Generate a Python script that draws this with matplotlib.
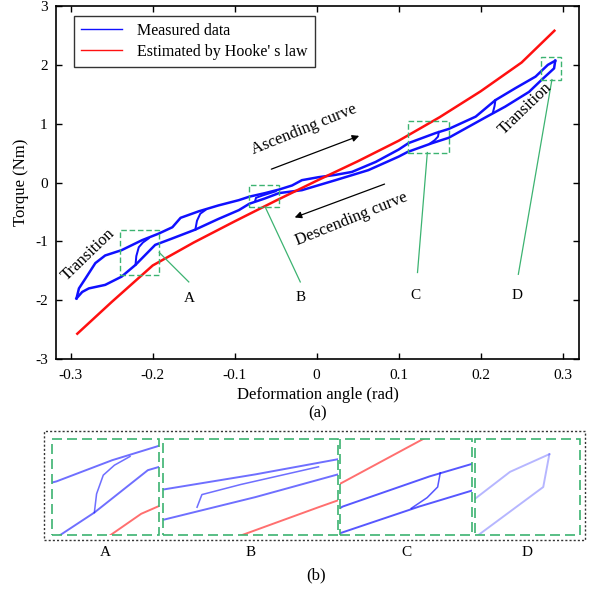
import numpy as np
import matplotlib
matplotlib.use("Agg")
import matplotlib.pyplot as plt
from matplotlib.patches import Rectangle
from matplotlib.lines import Line2D

plt.rcParams['font.family'] = ['Liberation Serif', 'DejaVu Serif']
plt.rcParams['axes.unicode_minus'] = False

# measured loop, upper branch (left to right)
up_x = [-0.293, -0.290, -0.282, -0.270, -0.258, -0.238, -0.213, -0.193, -0.176, -0.166,
        -0.144, -0.120, -0.095, -0.082, -0.063, -0.046, -0.030, -0.018, 0.002, 0.023,
        0.043, 0.072, 0.100, 0.112, 0.145, 0.161, 0.194, 0.218, 0.242, 0.267, 0.282, 0.291]
up_y = [-1.97, -1.80, -1.63, -1.37, -1.24, -1.15, -0.98, -0.87, -0.76, -0.60,
        -0.49, -0.39, -0.30, -0.24, -0.18, -0.12, -0.05, 0.04, 0.09, 0.13,
        0.18, 0.35, 0.56, 0.67, 0.84, 0.91, 1.12, 1.40, 1.60, 1.80, 2.00, 2.07]

# measured loop, lower branch (left to right)
low_x = [-0.293, -0.286, -0.278, -0.258, -0.238, -0.221, -0.209, -0.197, -0.176, -0.148,
         -0.120, -0.095, -0.082, -0.063, -0.046, -0.018, 0.023, 0.063, 0.100, 0.111,
         0.141, 0.161, 0.205, 0.230, 0.259, 0.274, 0.2896, 0.291]
low_y = [-1.97, -1.86, -1.80, -1.74, -1.60, -1.40, -1.23, -1.06, -0.95, -0.80,
         -0.62, -0.47, -0.36, -0.27, -0.18, -0.13, 0.04, 0.21, 0.44, 0.52,
         0.67, 0.76, 1.10, 1.29, 1.54, 1.74, 1.94, 2.07]

# inner transition curves
trans = [
    ([-0.221, -0.220, -0.217, -0.212, -0.205], [-1.40, -1.25, -1.10, -1.02, -0.95]),
    ([-0.148, -0.146, -0.142, -0.136], [-0.80, -0.65, -0.53, -0.47]),
    ([-0.075, -0.074, -0.066, -0.050], [-0.31, -0.26, -0.22, -0.15]),
    ([0.149, 0.148, 0.144, 0.138], [0.86, 0.78, 0.72, 0.66]),
    ([0.218, 0.217, 0.215], [1.40, 1.30, 1.19]),
]

# Hooke's law estimate
hooke_x = [-0.292, -0.25, -0.2, -0.15, -0.1, -0.05, 0.0, 0.05, 0.1, 0.15, 0.2, 0.25, 0.29]
hooke_y = [-2.57, -2.03, -1.41, -1.02, -0.66, -0.31, 0.03, 0.36, 0.71, 1.11, 1.55, 2.04, 2.58]

# zoom boxes: (x0, x1, y0, y1)
box_names = ['A', 'B', 'C', 'D']
boxes = [(-0.240, -0.192, -1.58, -0.81),
         (-0.082, -0.046, -0.42, -0.04),
         (0.111, 0.161, 0.51, 1.05),
         (0.274, 0.298, 1.75, 2.13)]
# leader lines (box point -> label point) and label positions
leaders = [((-0.192, -1.19), (-0.156, -1.69)),
           ((-0.063, -0.41), (-0.020, -1.69)),
           ((0.135, 0.51), (0.123, -1.53)),
           ((0.287, 1.75), (0.246, -1.56))]
label_pos = [(-0.155, -1.97), (-0.020, -1.95), (0.120, -1.92), (0.245, -1.92)]

blue = '#1010ff'
red = '#ff1010'
green = '#3cb371'


def draw_data(ax, lw, alpha_b, alpha_r):
    ax.plot(up_x, up_y, color=blue, lw=lw, alpha=alpha_b)
    ax.plot(low_x, low_y, color=blue, lw=lw, alpha=alpha_b)
    for tx, ty in trans:
        ax.plot(tx, ty, color=blue, lw=lw * 0.8, alpha=alpha_b)
    ax.plot(hooke_x, hooke_y, color=red, lw=lw, alpha=alpha_r)


fig = plt.figure(figsize=(5.95, 5.90), dpi=100)
ax = fig.add_axes([0.0941, 0.3915, 0.879, 0.5983])

draw_data(ax, 1.8, 1.0, 1.0)

ax.set_xlim(-0.318, 0.32)
ax.set_ylim(-3, 3)
ax.set_xticks([-0.3, -0.2, -0.1, 0, 0.1, 0.2, 0.3])
ax.set_xticklabels(['-0.3', '-0.2', '-0.1', '0', '0.1', '0.2', '0.3'])
ax.set_yticks([-3, -2, -1, 0, 1, 2, 3])
ax.tick_params(direction='in', top=True, right=True, length=4, labelsize=11, width=1)
ax.tick_params(axis='x', pad=7)
ax.tick_params(axis='y', pad=6)
for s in ax.spines.values():
    s.set_linewidth(1.2)
ax.set_xlabel('Deformation angle (rad)', fontsize=12, labelpad=4)
ax.set_ylabel('Torque (Nm)', fontsize=12, labelpad=4)

# zoom boxes and leaders
for (x0, x1, y0, y1), (p0, p1), name, lp in zip(boxes, leaders, box_names, label_pos):
    ax.add_patch(Rectangle((x0, y0), x1 - x0, y1 - y0, fill=False, ec=green,
                           ls=(0, (4, 2)), lw=1.0, zorder=5))
    ax.plot([p0[0], p1[0]], [p0[1], p1[1]], color=green, lw=0.9)
    ax.text(lp[0], lp[1], name, fontsize=11, ha='center', va='center')

# arrows and annotations
ax.annotate('', xy=(0.055, 0.81), xytext=(-0.0585, 0.21),
            arrowprops=dict(arrowstyle='-|>', color='black', lw=0.9, mutation_scale=10))
ax.annotate('', xy=(-0.030, -0.61), xytext=(0.086, -0.01),
            arrowprops=dict(arrowstyle='-|>', color='black', lw=0.9, mutation_scale=10))
ax.text(-0.016, 0.90, 'Ascending curve', fontsize=12, rotation=22, ha='center', va='center')
ax.text(0.043, -0.62, 'Descending curve', fontsize=12, rotation=22, ha='center', va='center')
ax.text(-0.279, -1.23, 'Transition', fontsize=12, rotation=44, ha='center', va='center')
ax.text(0.255, 1.26, 'Transition', fontsize=12, rotation=44, ha='center', va='center')

handles = [Line2D([], [], color=blue, lw=1.0), Line2D([], [], color=red, lw=1.0)]
leg = ax.legend(handles, ['Measured data', "Estimated by Hooke' s law"], loc='upper left',
                bbox_to_anchor=(0.034, 0.972), borderaxespad=0, fontsize=11.5, frameon=True,
                fancybox=False, edgecolor='black', handlelength=2.6, handletextpad=0.9,
                borderpad=0.45, labelspacing=0.3)
leg.get_frame().set_linewidth(1.0)

fig.text(0.534, 0.300, '(a)', fontsize=12, ha='center', va='center')

# (b) panel
fig.patches.append(Rectangle((0.074, 0.0847), 0.909, 0.1848, transform=fig.transFigure,
                             fill=False, ec='#333333', ls=(0, (1.5, 1.5)), lw=1.0))
inset_rects = [(0.0874, 0.1798), (0.274, 0.294), (0.5714, 0.2218), (0.7983, 0.1765)]
alphas = [0.6, 0.6, 0.7, 0.3]
for (left, width), (x0, x1, y0, y1), name, a in zip(inset_rects, boxes, box_names, alphas):
    iax = fig.add_axes([left, 0.0932, width, 0.1627])
    draw_data(iax, 1.4, a, 0.6)
    iax.set_xlim(x0, x1)
    iax.set_ylim(y0, y1)
    iax.set_xticks([])
    iax.set_yticks([])
    for s in iax.spines.values():
        s.set_visible(False)
    iax.add_patch(Rectangle((0, 0), 1, 1, transform=iax.transAxes, fill=False, ec=green,
                            ls=(0, (6, 3)), lw=1.2, clip_on=False, zorder=5))
    fig.text(left + width / 2, 0.064, name, fontsize=11, ha='center', va='center')

fig.text(0.531, 0.024, '(b)', fontsize=12, ha='center', va='center')

fig.savefig('out.png', dpi=100)
